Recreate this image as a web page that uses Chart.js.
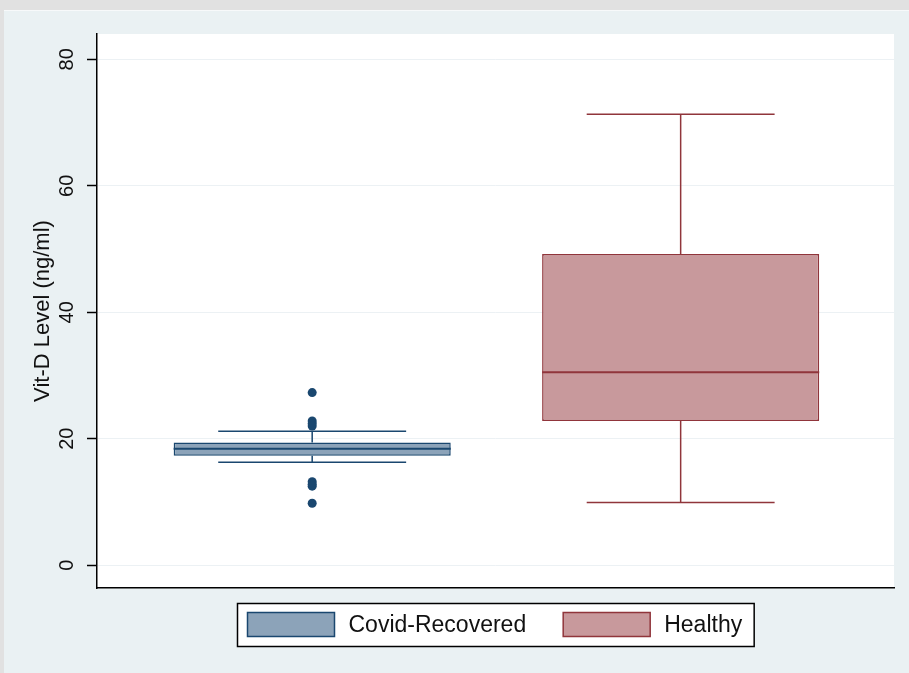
<!DOCTYPE html>
<html>
<head>
<meta charset="utf-8">
<script src="https://cdn.jsdelivr.net/npm/chart.js@4"></script>
<style>
  body { margin: 0; background: #e1e1e1; }
  #wrap { position: absolute; left: 4px; top: 10px; width: 905px; height: 663px; background: #eaf1f3; border-top: 1px solid #f7f9fa; box-sizing: border-box; }
</style>
</head>
<body>
<div id="wrap"><canvas id="myChart"></canvas></div>
<script>
// box plot values (ng/ml)
const groups = ['Covid-Recovered', 'Healthy'];
const lowerWhisker = [16.3, 9.9];
const q1 = [17.3, 22.8];
const median = [18.4, 30.5];
const q3 = [19.4, 49.2];
const upperWhisker = [21.2, 71.3];
const outliersCovid = [27.3, 22.8, 22.4, 22.0, 13.2, 12.8, 12.5, 9.8];
const yTicks = [0, 20, 40, 60, 80];

const lineColors = ['#1a476f', '#90353b'];
const fillColors = ['#8ca3b9', '#c8999c'];
const fontFamily = '"Liberation Sans", Arial, sans-serif';

const ctx = document.getElementById('myChart');

const datasets = groups.map((g, i) => ({
  type: 'bar',
  label: g,
  data: [{ x: i, y: [q1[i], q3[i]] }],
  backgroundColor: fillColors[i],
  borderColor: lineColors[i],
  borderWidth: 1.5,
  borderSkipped: false,
  grouped: false,
  barPercentage: 1,
  categoryPercentage: 0.752
}));
datasets.push({
  type: 'scatter',
  label: 'outliers',
  data: outliersCovid.map(v => ({ x: 0, y: v })),
  pointRadius: 4.5,
  pointBackgroundColor: lineColors[0],
  pointBorderColor: lineColors[0],
  pointBorderWidth: 0
});

// whiskers, caps and median lines, drawn through the scales
const boxParts = {
  id: 'boxParts',
  beforeDraw(chart) {
    const a = chart.chartArea, c = chart.ctx;
    c.save();
    c.fillStyle = '#fff';
    c.fillRect(a.left, a.top, a.right - a.left, a.bottom - a.top);
    c.restore();
  },
  beforeDatasetsDraw(chart) {
    const c = chart.ctx;
    const xs = chart.scales.x, ys = chart.scales.y;
    c.save();
    groups.forEach((g, i) => {
      const cx = xs.getPixelForValue(i);
      const capL = xs.getPixelForValue(i - 0.255);
      const capR = xs.getPixelForValue(i + 0.255);
      c.strokeStyle = lineColors[i];
      c.lineWidth = 1.5;
      c.beginPath();
      c.moveTo(cx, ys.getPixelForValue(q3[i]));
      c.lineTo(cx, ys.getPixelForValue(upperWhisker[i]));
      c.moveTo(cx, ys.getPixelForValue(q1[i]));
      c.lineTo(cx, ys.getPixelForValue(lowerWhisker[i]));
      c.moveTo(capL, ys.getPixelForValue(upperWhisker[i]));
      c.lineTo(capR, ys.getPixelForValue(upperWhisker[i]));
      c.moveTo(capL, ys.getPixelForValue(lowerWhisker[i]));
      c.lineTo(capR, ys.getPixelForValue(lowerWhisker[i]));
      c.stroke();
    });
    c.restore();
  },
  afterDatasetsDraw(chart) {
    const c = chart.ctx;
    const ys = chart.scales.y;
    c.save();
    groups.forEach((g, i) => {
      const bar = chart.getDatasetMeta(i).data[0];
      const y = ys.getPixelForValue(median[i]);
      c.strokeStyle = lineColors[i];
      c.lineWidth = 2;
      c.beginPath();
      c.moveTo(bar.x - bar.width / 2, y);
      c.lineTo(bar.x + bar.width / 2, y);
      c.stroke();
    });
    c.restore();
  }
};

// boxed legend under the plot, like the original
const boxLegend = {
  id: 'boxLegend',
  afterDraw(chart) {
    const c = chart.ctx, a = chart.chartArea;
    const items = chart.data.datasets.filter(d => d.type === 'bar');
    c.save();
    c.font = '23px ' + fontFamily;
    const sw = 87, sh = 24, gapT = 14, gapItem = 37, padL = 10, padR = 12;
    let total = padL + padR + gapItem * (items.length - 1);
    items.forEach(d => { total += sw + gapT + c.measureText(d.label).width; });
    const x0 = Math.round((a.left + a.right) / 2 - total / 2) + 0.5;
    const y0 = Math.round(a.bottom + 15) + 0.5;
    const h = 43;
    c.fillStyle = '#fff';
    c.fillRect(x0, y0, total, h);
    c.strokeStyle = '#000';
    c.lineWidth = 1.5;
    c.strokeRect(x0, y0, total, h);
    let x = x0 + padL;
    items.forEach(d => {
      c.fillStyle = d.backgroundColor;
      c.fillRect(x, y0 + 9, sw, sh);
      c.strokeStyle = d.borderColor;
      c.lineWidth = 1.5;
      c.strokeRect(x, y0 + 9, sw, sh);
      x += sw + gapT;
      c.fillStyle = '#111';
      c.textBaseline = 'middle';
      c.textAlign = 'left';
      c.fillText(d.label, x, y0 + h / 2 + 1);
      x += c.measureText(d.label).width + gapItem;
    });
    c.restore();
  }
};

const grafico = new Chart(ctx, {
  type: 'bar',
  data: { datasets: datasets },
  plugins: [boxParts, boxLegend],
  options: {
    responsive: true,
    maintainAspectRatio: false,
    animation: false,
    layout: { padding: { left: 24, top: 23, right: 15, bottom: 77 } },
    plugins: {
      legend: { display: false },
      tooltip: { enabled: false }
    },
    scales: {
      x: {
        type: 'linear',
        offset: false,
        min: -0.584,
        max: 1.579,
        afterBuildTicks: s => { s.ticks = groups.map((g, i) => ({ value: i })); },
        grid: { display: false },
        ticks: { display: false },
        border: { display: true, color: '#000', width: 1.5 }
      },
      y: {
        min: -3.6,
        max: 84,
        afterBuildTicks: s => { s.ticks = yTicks.map(v => ({ value: v })); },
        afterFit: s => { s.width = 69; },
        grid: { color: '#ecf1f4', tickColor: '#000', tickLength: 10, tickWidth: 1.5 },
        border: { display: true, color: '#000', width: 1.5 },
        ticks: {
          minRotation: 90,
          maxRotation: 90,
          crossAlign: 'center',
          padding: 8,
          color: '#111',
          font: { family: fontFamily, size: 20 }
        },
        title: {
          display: true,
          text: 'Vit-D Level (ng/ml)',
          color: '#111',
          padding: { top: 2, bottom: 0 },
          font: { family: fontFamily, size: 22 }
        }
      }
    }
  }
});
</script>
</body>
</html>
